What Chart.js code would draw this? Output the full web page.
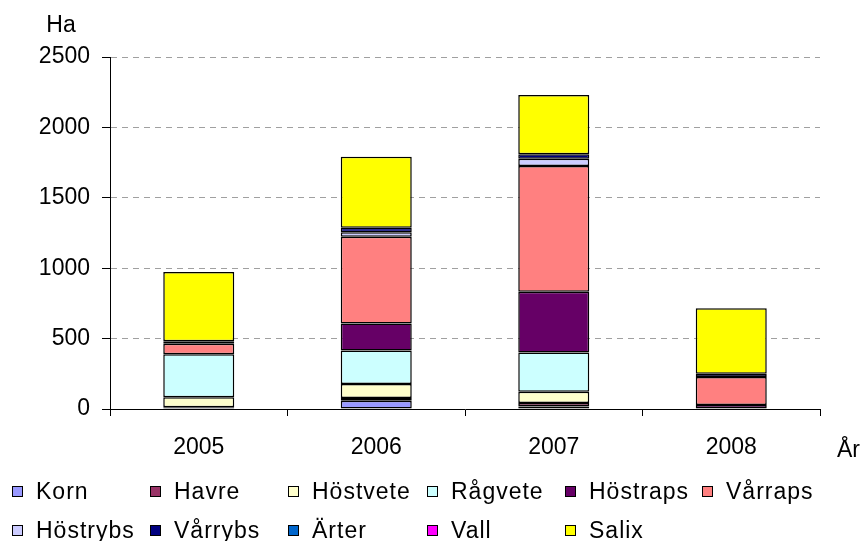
<!DOCTYPE html>
<html>
<head>
<meta charset="utf-8">
<script src="https://cdn.jsdelivr.net/npm/chart.js@4/dist/chart.umd.min.js"></script>
<style>
html,body{margin:0;padding:0;background:#fff;}
#wrap{position:relative;width:861px;height:541px;}
canvas{display:block;}
</style>
</head>
<body>
<div id="wrap"><canvas id="c" width="861" height="541"></canvas></div>
<script>
// ---- data ----
const years = ['2005', '2006', '2007', '2008'];
const seriesNames = ['Korn', 'Havre', 'Höstvete', 'Rågvete', 'Höstraps', 'Vårraps', 'Höstrybs', 'Vårrybs', 'Ärter', 'Vall', 'Salix'];
const korn     = [0, 59, 18, 0];
const havre    = [12, 19, 25, 0];
const hostvete = [72, 99, 80, 0];
const ragvete  = [305, 238, 278, 0];
const hostraps = [0, 192, 431, 28];
const varraps  = [74, 617, 893, 199];
const hostrybs = [0, 31, 52, 0];
const varrybs  = [18, 33, 33, 23];
const arter    = [0, 0, 0, 0];
const vall     = [0, 0, 0, 0];
const salix    = [492, 503, 420, 466];
const yTicks = [0, 500, 1000, 1500, 2000, 2500];
const yAxisTitle = 'Ha';
const xAxisTitle = 'År';

// ---- styles ----
const colors = ['#9999FF', '#993366', '#FFFFCC', '#CCFFFF', '#660066', '#FF8080', '#CCCCFF', '#000080', '#0066CC', '#FF00FF', '#FFFF00'];
const seriesData = [korn, havre, hostvete, ragvete, hostraps, varraps, hostrybs, varrybs, arter, vall, salix];
const FONT = '"Liberation Sans", Arial, sans-serif';
const FS = 23;

const datasets = seriesNames.map((n, i) => ({
  label: n,
  data: seriesData[i],
  backgroundColor: colors[i],
  borderColor: '#000',
  borderWidth: 1.5,
  borderSkipped: false,
  categoryPercentage: 0.4,
  barPercentage: 1.0
}));

// legend grid positions
const legendCols = [12, 150, 288, 427, 565, 702];
const legendRows = [499, 538];

const extras = {
  id: 'extras',
  afterDraw(chart) {
    const ctx = chart.ctx;
    ctx.save();
    ctx.fillStyle = '#000';
    ctx.font = FS + 'px ' + FONT;
    ctx.textBaseline = 'alphabetic';
    ctx.textAlign = 'center';
    ctx.fillText(yAxisTitle, 61, 32);
    ctx.textAlign = 'left';
    ctx.fillText(xAxisTitle, 837, 457);
    // legend
    ctx.letterSpacing = '1px';
    seriesNames.forEach((n, i) => {
      const col = i < 6 ? i : i - 6;
      const row = i < 6 ? 0 : 1;
      const x = legendCols[col];
      const base = legendRows[row];
      const bx = x, by = base - 13;
      ctx.fillStyle = colors[i];
      ctx.fillRect(bx, by, 10, 10);
      ctx.strokeStyle = '#000';
      ctx.lineWidth = 1;
      ctx.strokeRect(bx + 0.5, by + 0.5, 10, 10);
      ctx.fillStyle = '#000';
      ctx.fillText(n, x + 24, base);
    });
    ctx.restore();
  }
};

new Chart(document.getElementById('c'), {
  type: 'bar',
  data: { labels: years, datasets },
  options: {
    responsive: false,
    animation: false,
    devicePixelRatio: 1,
    layout: { padding: { top: 57, right: 41, left: 0, bottom: 0 } },
    plugins: { legend: { display: false }, tooltip: { enabled: false } },
    scales: {
      x: {
        stacked: true,
        offset: true,
        grid: { color: 'rgba(0,0,0,0)', tickColor: '#000', tickLength: 7, offset: true, drawOnChartArea: false },
        border: { display: true, color: '#000', width: 1 },
        ticks: { color: '#000', font: { family: FONT, size: FS }, padding: 18, maxRotation: 0 },
        afterFit: s => { s.height = 132; }
      },
      y: {
        stacked: true,
        min: 0,
        max: 2500,
        afterBuildTicks: s => { s.ticks = yTicks.map(v => ({ value: v })); },
        grid: {
          color: c => (c.tick && c.tick.value === 0) ? 'rgba(0,0,0,0)' : '#A0A0A0',
          tickColor: '#000',
          tickLength: 8,
          tickBorderDash: []
        },
        border: { display: true, color: '#000', width: 1, dash: [6, 5] },
        ticks: { color: '#000', font: { family: FONT, size: FS }, padding: 12, callback: v => String(v) },
        afterFit: s => { s.width = 110; }
      }
    }
  },
  plugins: [extras]
});
</script>
</body>
</html>
